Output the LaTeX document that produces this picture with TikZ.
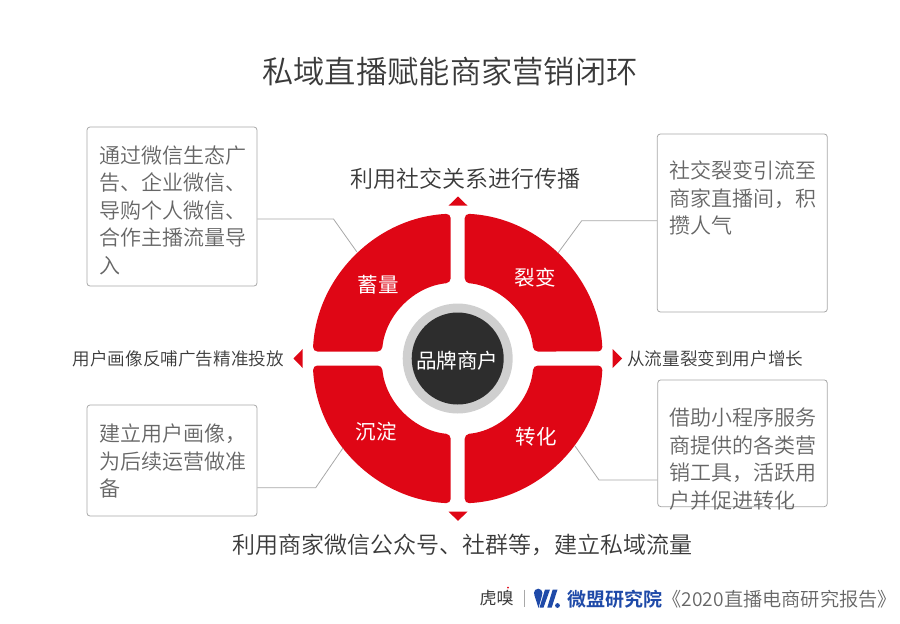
\documentclass[tikz,border=0pt]{standalone}
\usepackage{fontspec}
\setmainfont{Noto Sans CJK SC}[UprightFont=* DemiLight,BoldFont=* Bold]
\newfontfamily\regf{Noto Sans CJK SC}
\definecolor{bred}{HTML}{DF0615}
\definecolor{ink}{HTML}{3A3A3A}
\definecolor{boxink}{HTML}{666666}
\definecolor{edge}{HTML}{A8A8A8}
\definecolor{ringg}{HTML}{CFCFCF}
\definecolor{hub}{HTML}{2D2D2D}
\definecolor{wmblue}{HTML}{1F4AA8}
\newcommand{\fs}[1]{\fontsize{#1}{#1}\selectfont}
\tikzset{
  cardbox/.style={draw=edge,line width=0.8pt,rounded corners=3pt,fill=white,inner sep=0pt},
  cardtext/.style={anchor=north west,inner sep=0pt,text=boxink,align=left,font=\fontsize{21}{27.5}\selectfont},
  headline/.style={inner sep=0pt,text=ink},
  seclabel/.style={inner sep=0pt,text=white,font=\regf\fs{20.5}},
  sector/.style={fill=bred,rounded corners=4.5pt},
  leader/.style={draw=edge,line width=0.8pt},
  tip/.style={fill=bred}
}
\begin{document}
\begin{tikzpicture}[x=1pt,y=-1pt]
\useasboundingbox (0,0) rectangle (900,624);
% ring sectors
\foreach \r in {0,90,180,270}{
  \begin{scope}[shift={(457.7,358.5)},y=1pt,rotate=\r]
    \path[sector] (7,144.83) arc[start angle=87.23,end angle=2.77,radius=145]
      -- (75.68,7) arc[start angle=5.28,end angle=84.72,radius=76] -- cycle;
  \end{scope}
}
% hub
\node[circle,fill=ringg,minimum size=110pt,inner sep=0pt] (ring) at (457.7,358.5) {};
\node[circle,fill=hub,minimum size=92pt,inner sep=0pt] (hubc) at (457.7,358.5) {};
\node[inner sep=0pt,text=white,font=\regf\fs{20.5}] (hubt) at (457,360.5) {品牌商户};
% sector labels
\node[seclabel] (s1) at (378,284.5) {蓄量};
\node[seclabel] (s2) at (535,278) {裂变};
\node[seclabel] (s3) at (376,432) {沉淀};
\node[seclabel] (s4) at (536,437) {转化};
% triangles
\fill[tip] (458,196.5) -- (467.5,205.7) -- (448.5,205.7) -- cycle;
\fill[tip] (458,520.8) -- (467.5,511.7) -- (448.5,511.7) -- cycle;
\fill[tip] (293.5,358.5) -- (302.7,349) -- (302.7,368) -- cycle;
\fill[tip] (622,358.5) -- (612.5,349) -- (612.5,368) -- cycle;
% cards
\node[cardbox,minimum width=170pt,minimum height=159pt] (b1) at (172,206.5) {};
\node[cardbox,minimum width=170pt,minimum height=178pt] (b2) at (742.3,223) {};
\node[cardbox,minimum width=170pt,minimum height=111pt] (b3) at (172,460.5) {};
\node[cardbox,minimum width=169.5pt,minimum height=126.7pt] (b4) at (742.5,443.3) {};
\node[cardtext] (t1) at (99.5,145.5) {通过微信生态广\\告、企业微信、\\导购个人微信、\\合作主播流量导\\入};
\node[cardtext] (t2) at (669.5,161) {社交裂变引流至\\商家直播间，积\\攒人气};
\node[cardtext] (t3) at (99.5,424) {建立用户画像，\\为后续运营做准\\备};
\node[cardtext] (t4) at (669.5,408) {借助小程序服务\\商提供的各类营\\销工具，活跃用\\户并促进转化};
% leaders
\coordinate (k1) at (333.5,219); \coordinate (e1) at (356.7,251.7);
\coordinate (k2) at (581.7,220.7); \coordinate (e2) at (558,253);
\coordinate (k3) at (315.7,487.7); \coordinate (e3) at (343,448);
\coordinate (k4) at (599,480); \coordinate (e4) at (575,446);
\draw[leader] (b1.east |- k1) -- (k1) -- (e1);
\draw[leader] (b2.west |- k2) -- (k2) -- (e2);
\draw[leader] (b3.east |- k3) -- (k3) -- (e3);
\draw[leader] (b4.west |- k4) -- (k4) -- (e4);
% headings
\node[headline,font=\fs{31.3}] (title) at (450,71.5) {私域直播赋能商家营销闭环};
\node[headline,font=\fs{23}] (top) at (465,179) {利用社交关系进行传播};
\node[headline,font=\fs{23}] (bot) at (462.5,544.5) {利用商家微信公众号、社群等，建立私域流量};
\node[headline,font=\fs{17.6},anchor=east] (lft) at (284,358.5) {用户画像反哺广告精准投放};
\node[headline,font=\fs{17.6},anchor=west] (rgt) at (627,358.5) {从流量裂变到用户增长};
% footer
\node[inner sep=0pt,text=ink,font=\regf\fs{17}] (hx) at (496.5,598) {虎嗅};
\fill[bred] (508,587.5) circle (1pt);
\draw[edge,line width=0.7pt] (524,589.5) -- (524,607);
% logo mark
\fill[wmblue] (538.2,593) circle (4.3pt);
\fill[wmblue] (534.2,594.5) -- (542.3,594.5) -- (538.5,608) -- cycle;
\fill[wmblue] (545,589.5) -- (550,589.5) -- (543.5,607.5) -- (539.5,607.5) -- cycle;
\fill[wmblue] (552.7,589.5) -- (557.5,589.5) -- (551.7,607.5) -- (547.3,607.5) -- cycle;
\fill[wmblue] (557.5,605.5) circle (2.4pt);
\node[inner sep=0pt,anchor=west,text=wmblue,font=\bfseries\fs{19}] (wm) at (567,599) {微盟研究院};
\node[inner sep=0pt,anchor=west,text=boxink,font=\fs{19.2}] (rep) at (662.5,599) {《2020直播电商研究报告》};
\end{tikzpicture}
\end{document}
